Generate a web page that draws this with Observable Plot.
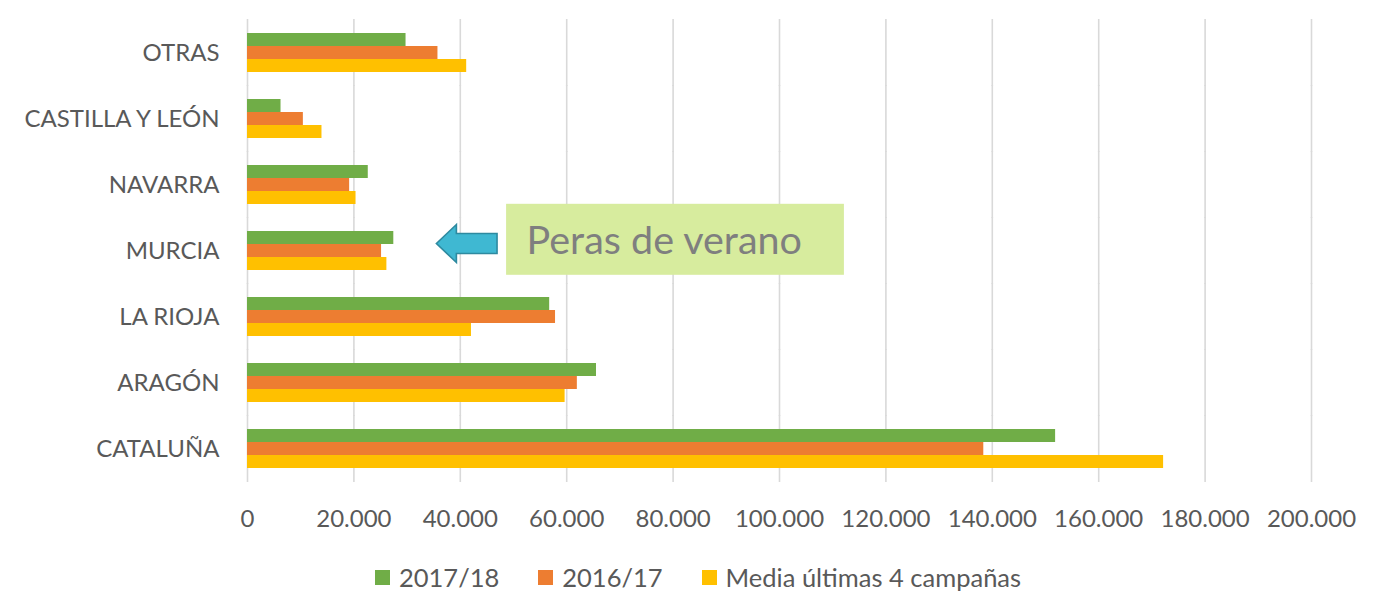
<!DOCTYPE html>
<html>
<head>
<meta charset="utf-8">
<script src="https://cdn.jsdelivr.net/npm/d3@7"></script>
<script src="https://cdn.jsdelivr.net/npm/@observablehq/plot@0.6"></script>
<style>
  html, body { margin: 0; padding: 0; background: #fff; }
  #wrap { position: relative; width: 1383px; height: 599px; overflow: hidden; font-family: Lato, "Open Sans", sans-serif; }
  #legend { position: absolute; left: 375px; top: 562px; height: 30px; line-height: 30px;
            display: flex; align-items: center; white-space: nowrap; font-size: 25.5px; color: #595959; }
  .item { display: flex; align-items: center; margin-right: 39px; }
  .sw { width: 15px; height: 15px; margin-right: 9px; }
</style>
</head>
<body>
<div id="wrap"></div>
<script>
const regions = ["OTRAS", "CASTILLA Y LEÓN", "NAVARRA", "MURCIA", "LA RIOJA", "ARAGÓN", "CATALUÑA"];
const seriesNames = ["2017/18", "2016/17", "Media últimas 4 campañas"];
const seriesColors = ["#70ad47", "#ed7d31", "#ffc000"];
const values2017_18 = [29800, 6300, 22700, 27500, 56800, 65600, 151900];
const values2016_17 = [35800, 10500, 19200, 25200, 57900, 62000, 138400];
const valuesMedia = [41200, 14000, 20400, 26200, 42100, 59700, 172200];
const xTicks = [0, 20000, 40000, 60000, 80000, 100000, 120000, 140000, 160000, 180000, 200000];
const annotationText = "Peras de verano";
const annotationRegion = "MURCIA";
const arrowTipValue = 35600;
const arrowTailValue = 47000;
const boxStartValue = 48700;
const boxEndValue = 112200;

const seriesValues = [values2017_18, values2016_17, valuesMedia];
const data = [];
regions.forEach((r, i) => seriesNames.forEach((s, j) => data.push({region: r, series: s, value: seriesValues[j][i]})));

const fmt = d => d3.format(",")(d).replace(/,/g, ".");

const chart = Plot.plot({
  width: 1383,
  height: 548,
  marginLeft: 247,
  marginRight: 72,
  marginTop: 19,
  marginBottom: 67,
  style: {fontFamily: "Lato, 'Open Sans', sans-serif", fontSize: "24px", color: "#595959", background: "#fff"},
  x: {domain: [0, 200000], ticks: xTicks, tickFormat: fmt, tickSize: 0, tickPadding: 40, label: null},
  y: {domain: seriesNames, axis: null, padding: 0},
  fy: {domain: regions, paddingInner: 0.385, paddingOuter: 0.1925, axis: "left", tickSize: 0, tickPadding: 28, label: null},
  color: {domain: seriesNames, range: seriesColors},
  marks: [
    Plot.ruleX(xTicks, {stroke: "#d9d9d9", strokeWidth: 1.6, strokeOpacity: 1, insetTop: -13, insetBottom: -13}),
    Plot.barX(data, {fy: "region", y: "series", x: "value", fill: "series"})
  ]
});

document.getElementById("wrap").appendChild(chart);

// annotation
const sx = chart.scale("x");
const sfy = chart.scale("fy");
let yc = 250;
try { yc = sfy.apply(annotationRegion) + sfy.bandwidth / 2; } catch (e) {}
const svg = d3.select(chart);
const g = svg.append("g");
const bx0 = sx.apply(boxStartValue), bx1 = sx.apply(boxEndValue);
g.append("rect").attr("x", bx0).attr("y", yc - 46.7).attr("width", bx1 - bx0).attr("height", 71).attr("fill", "#d7ec9e");
g.append("text").attr("x", bx0 + 20.5).attr("y", yc + 3.5).attr("fill", "#7f7f7f").attr("text-anchor", "start")
  .attr("font-family", "Lato, 'Open Sans', sans-serif").attr("font-size", "39.5px").text(annotationText);
const tip = sx.apply(arrowTipValue), tail = sx.apply(arrowTailValue), hb = tip + 20;
const ay = yc - 7;
const pts = [[tip, ay], [hb, ay - 19], [hb, ay - 10], [tail, ay - 10], [tail, ay + 10], [hb, ay + 10], [hb, ay + 19]];
g.append("polygon").attr("points", pts.map(p => p.join(",")).join(" "))
  .attr("fill", "#3fb8d2").attr("stroke", "#2e8aa0").attr("stroke-width", 1.6).attr("stroke-linejoin", "miter");

// legend
const legend = document.createElement("div");
legend.id = "legend";
seriesNames.forEach((s, i) => {
  const it = document.createElement("div");
  it.className = "item";
  const sw = document.createElement("div");
  sw.className = "sw";
  sw.style.background = seriesColors[i];
  const t = document.createElement("span");
  t.textContent = s;
  it.appendChild(sw); it.appendChild(t);
  legend.appendChild(it);
});
document.getElementById("wrap").appendChild(legend);
</script>
</body>
</html>
